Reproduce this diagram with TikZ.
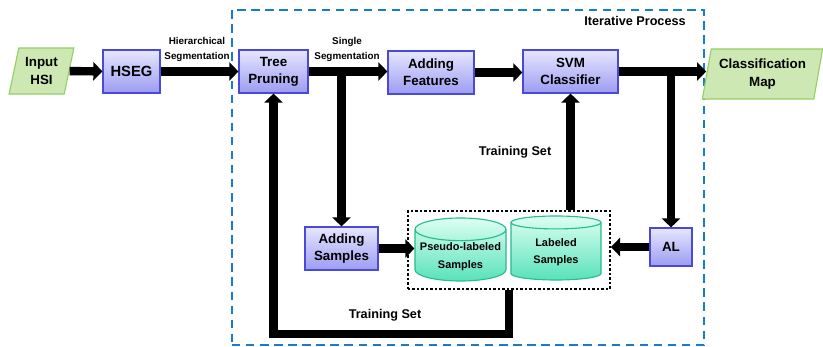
\documentclass[tikz,border=0pt]{standalone}
\usepackage{fontspec}
\setmainfont{Liberation Sans}
\usepackage{tikz}
\usetikzlibrary{arrows.meta}
\usetikzlibrary{shapes.geometric, shadows}

\definecolor{boxtop}{HTML}{E6E6FF}
\definecolor{boxbot}{HTML}{9C9CF2}
\definecolor{boxline}{HTML}{4A4AD6}
\definecolor{iofill}{HTML}{CDE8B2}
\definecolor{ioline}{HTML}{96CF68}
\definecolor{cyltop}{HTML}{DDFFF2}
\definecolor{cylbot}{HTML}{58E2BA}
\definecolor{cylline}{HTML}{28BC8E}
\definecolor{iterblue}{HTML}{1A7ACC}

\begin{document}
\begin{tikzpicture}[x=0.025cm, y=-0.025cm,
  every node/.style={font=\bfseries, align=center, inner sep=1pt},
  proc/.style={draw=boxline, line width=0.8pt, top color=boxtop, bottom color=boxbot,
    drop shadow={shadow xshift=1pt, shadow yshift=-1pt, opacity=0.25},
    font=\bfseries\fontsize{9.5}{12}\selectfont, minimum height=1.075cm},
  io/.style={trapezium, trapezium stretches=true, draw=ioline, fill=iofill, line width=0.8pt,
    font=\bfseries\fontsize{9.5}{13}\selectfont},
  store/.style={cylinder, shape border rotate=90, aspect=0.27, draw=cylline, line width=0.8pt,
    top color=cyltop, bottom color=cylbot, anchor=shape center,
    font=\bfseries\fontsize{7.8}{12.5}\selectfont},
  lbl/.style={font=\bfseries\fontsize{7}{10.5}\selectfont},
  flow/.style={line width=6pt, -{Triangle[width=13pt,length=6.5pt]}}]
\useasboundingbox (0,0) rectangle (823,347);

% iterative part
\node[draw=iterblue, line width=2pt, dash pattern=on 6pt off 4pt, minimum width=11.8cm,
  minimum height=8.375cm] (iter) at (468,177.5) {};
\node[font=\bfseries\fontsize{9}{11}\selectfont] (itertxt) at (635,21) {Iterative Process};

\node[io, trapezium left angle=76, trapezium right angle=104, minimum width=1.625cm,
  minimum height=1.15cm] (inp) at (41.5,71) {Input\\HSI};
\node[proc, minimum width=1.425cm, font=\bfseries\fontsize{10.5}{12}\selectfont] (hseg) at (131.5,71.5) {HSEG};
\node[proc, minimum width=1.725cm] (tree) at (273.5,71.5) {Tree\\Pruning};
\node[proc, minimum width=2.15cm] (feat) at (431,72.5) {Adding\\Features};
\node[proc, minimum width=2.375cm] (svm) at (570.5,71.5) {SVM\\Classifier};
\node[io, trapezium left angle=77, trapezium right angle=103, minimum width=3.025cm,
  minimum height=1.25cm] (map) at (762.5,74) {Classification\\Map};
\node[proc, minimum width=1.825cm] (samp) at (341.5,248.5) {Adding\\Samples};
\node[proc, minimum width=1.05cm, minimum height=0.95cm] (al) at (671,247) {AL};

\node[draw=black, line width=1.3pt, dash pattern=on 1.6pt off 1.6pt, minimum width=5.05cm,
  minimum height=1.95cm] (train) at (509,250) {};
\node[store, minimum width=2.275cm, minimum height=1.575cm] (pseudo) at (460.5,249.5) {Pseudo-labeled\\Samples};
\node[store, minimum width=2.25cm, minimum height=1.6cm] (lab) at (556,248) {Labeled\\Samples};

\node[lbl] (hier) at (197,49.5) {Hierarchical\\Segmentation};
\node[lbl] (single) at (347,49.5) {Single\\Segmentation};
\node[font=\bfseries\fontsize{9}{11}\selectfont] (tsup) at (515,152) {Training Set};
\node[font=\bfseries\fontsize{9}{11}\selectfont] (tsdown) at (385,315) {Training Set};

\draw[flow] (inp) -- (hseg);
\draw[flow] (hseg) -- (tree);
\draw[flow] (tree.east) -- (tree.east -| feat.west);
\draw[flow] (feat.east) -- (feat.east -| svm.west);
\draw[flow] (svm.east) -- (svm.east -| map.west);
\draw[flow] (samp.north |- tree.east) -- (samp.north);
\draw[flow] (al.north |- svm.east) -- (al.north);
\draw[flow] (al.west) -- (al.west -| train.east);
\draw[flow] (samp.east) -- (samp.east -| pseudo.west);
\draw[flow] (svm.south |- train.north) -- (svm.south);
\draw[flow] (train.south) -- ++(0,44) -| (tree.south);
\end{tikzpicture}
\end{document}
